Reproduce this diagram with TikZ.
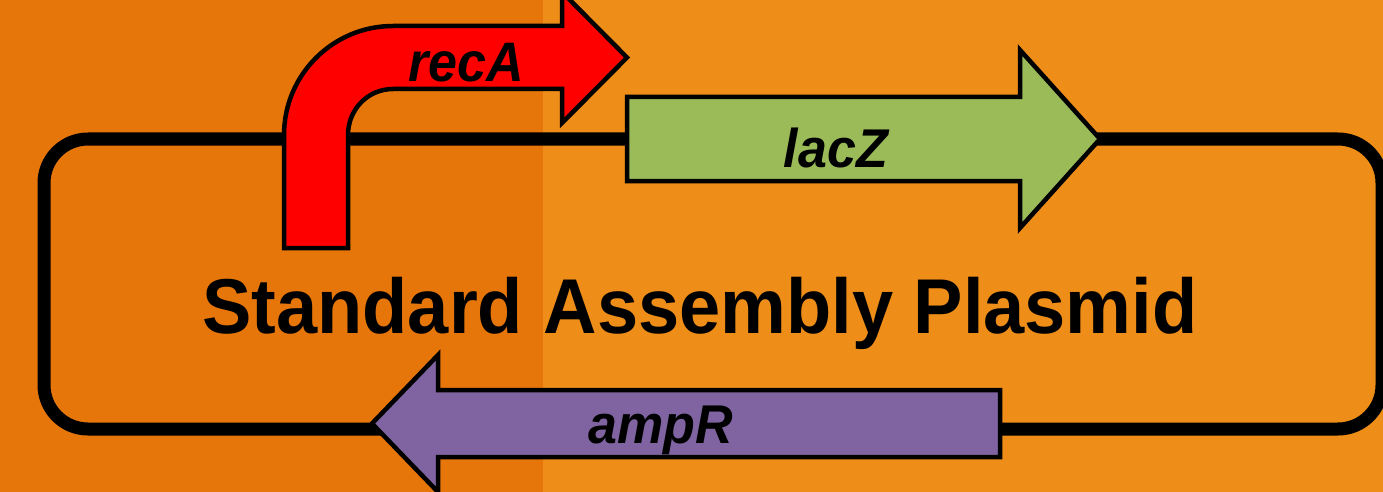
\documentclass[tikz,border=0pt]{standalone}
\usepackage{fontspec}
\newfontfamily\labelfont{Liberation Sans}
\definecolor{bgleft}{RGB}{230,118,10}
\definecolor{bgright}{RGB}{238,141,24}
\definecolor{recared}{RGB}{255,0,0}
\definecolor{laczgreen}{RGB}{155,187,89}
\definecolor{amprpurple}{RGB}{128,100,162}
\tikzset{
  gene/.style={draw=black, line width=4.5pt, line join=miter},
  backbone/.style={draw=black, line width=13pt, rounded corners=44pt},
  genelabel/.style={font=\labelfont\bfseries\itshape\fontsize{52}{52}\selectfont, anchor=base, inner sep=0pt},
  titlelabel/.style={font=\labelfont\bfseries\fontsize{74}{74}\selectfont, anchor=base, inner sep=0pt}
}
\begin{document}
\begin{tikzpicture}[x=1pt,y=-1pt]
\useasboundingbox (0,0) rectangle (1383,492);
% two-tone background
\fill[bgleft] (0,0) rectangle (543,492);
\fill[bgright] (543,0) rectangle (1383,492);
% plasmid backbone
\draw[backbone] (44,139) rectangle (1382,429);
% recA: bent arrow rising from the backbone
\path[gene, fill=recared]
  (284,248) -- (284,135)
  .. controls (284,74.8) and (332.8,26) .. (393,26)
  -- (562,26) -- (562,-8) -- (627,57.5) -- (562,123) -- (562,89)
  -- (393,89)
  .. controls (367.6,89) and (348,109.6) .. (348,135)
  -- (348,248) -- cycle;
% lacZ: forward arrow on the top strand
\path[gene, fill=laczgreen]
  (627,97) -- (1020,97) -- (1020,50) -- (1100,139) -- (1020,228)
  -- (1020,181) -- (627,181) -- cycle;
% ampR: reverse arrow on the bottom strand
\path[gene, fill=amprpurple]
  (1000,390) -- (438,390) -- (438,355) -- (372,423.5) -- (438,492)
  -- (438,457) -- (1000,457) -- cycle;
% labels
\node[genelabel] (reca) at (466,82) {\scalebox{1}[1.07]{recA}};
\node[genelabel] (lacz) at (836,167) {\scalebox{1}[1.05]{lacZ}};
\node[genelabel] (ampr) at (661,443) {\scalebox{1}[1.05]{ampR}};
\node[titlelabel] (title) at (700,333) {\scalebox{1}[1.05]{Standard Assembly Plasmid}};
\end{tikzpicture}
\end{document}
